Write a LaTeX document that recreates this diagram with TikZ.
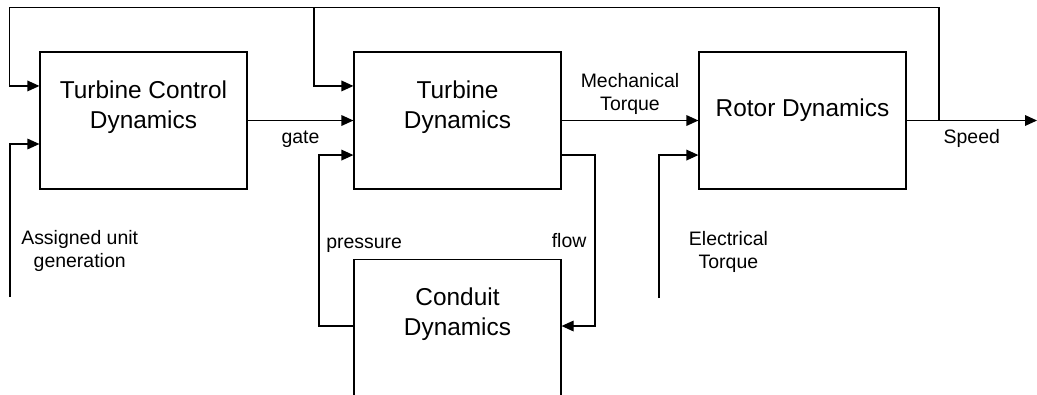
\documentclass[tikz,border=0pt]{standalone}
\usepackage{fontspec}
\setmainfont{Liberation Sans}
\usetikzlibrary{arrows.meta,calc}

\begin{document}
\begin{tikzpicture}[
  x=0.75pt, y=-0.75pt,
  block/.style={draw, line width=0.9pt, minimum width=155.25pt, minimum height=102.75pt, align=center, font=\fontsize{18.3}{22.5}\selectfont},
  link/.style={line width=0.9pt, -{Triangle[length=9pt, width=8pt]}},
  tag/.style={font=\fontsize{14.6}{17.25}\selectfont, align=center, inner sep=0pt}
]
\useasboundingbox (0,0) rectangle (1037,394);
\clip (0,0) rectangle (1037,394);

\node[block, text height=11.25pt, text depth=0pt] (tcd) at (143.5,120.5) {Turbine Control\\Dynamics};
\node[block, text height=11.25pt, text depth=0pt] (td) at (457.5,120.5) {Turbine\\Dynamics};
\node[block, text height=0pt, text depth=6pt] (rd) at (802.5,120.5) {Rotor Dynamics};
\node[block, anchor=north, minimum height=225pt, text height=0pt, text depth=111pt] (cd) at (457.5,259) {Conduit\\Dynamics};

\coordinate (tcd-a) at ($(tcd.north west)!0.25!(tcd.south west)$);
\coordinate (tcd-b) at ($(tcd.north west)!0.67!(tcd.south west)$);
\coordinate (td-a) at ($(td.north west)!0.25!(td.south west)$);
\coordinate (td-c) at ($(td.north west)!0.75!(td.south west)$);
\coordinate (td-d) at ($(td.north east)!0.75!(td.south east)$);
\coordinate (rd-b) at ($(rd.north west)!0.75!(rd.south west)$);
\coordinate (cd-w) at ($(cd.north west)+(0,67)$);
\coordinate (cd-e) at ($(cd.north east)+(0,67)$);

\coordinate (tap) at (939,120.5);
\coordinate (fb-l) at (9.5,7.5);
\coordinate (fb-m) at (314,7.5);
\coordinate (out) at (1037,120.5);
\coordinate (ref) at (10,297);
\coordinate (te) at (659,298);
\coordinate (fl) at (595,326);
\coordinate (pr) at (319,326);

\draw[link] (tcd.east) -- node[tag, below=7pt]{gate} (td.west);
\draw[link] (td.east) -- node[tag, above=4pt]{Mechanical\\Torque} (rd.west);
\draw[link] (rd.east) -- node[tag, below=6pt]{Speed} (out);
\draw[link] (tap) |- (fb-l) |- (tcd-a);
\draw[link] (fb-m) |- (td-a);
\draw[link] (ref) |- node[tag, right=8pt, pos=0.15]{Assigned unit\\generation} (tcd-b);
\draw[link] (te) |- node[tag, right=22pt, pos=0.16]{Electrical\\Torque} (rd-b);
\draw[link] (td-d) -| node[tag, left=6pt, pos=0.75]{flow} (fl) -- (cd-e);
\draw[link] (cd-w) -- (pr) |- node[tag, right=5pt, pos=0.237]{pressure} (td-c);
\end{tikzpicture}
\end{document}
